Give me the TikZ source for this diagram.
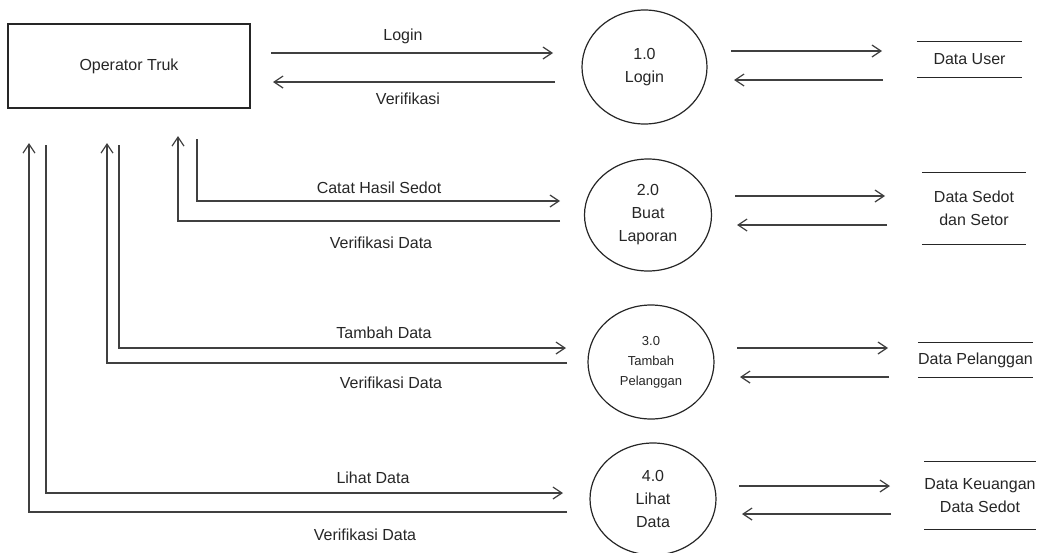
\documentclass[tikz,border=0pt]{standalone}
\usepackage{fontspec}
\setmainfont{Liberation Sans}
\usetikzlibrary{arrows.meta,shapes.geometric}

\begin{document}
\begin{tikzpicture}[x=1pt,y=-1pt,
  lbl/.style={text=black!85,font=\fontsize{16}{23}\selectfont,inner sep=0pt,align=center},
  entity/.style={draw=black!85,line width=1.2pt,minimum width=242,minimum height=84,inner sep=0pt,
    text=black!85,font=\fontsize{16}{23}\selectfont},
  proc/.style={ellipse,draw=black!85,line width=1.2pt,inner sep=0pt,align=center,
    text=black!85,font=\fontsize{16}{23}\selectfont},
  store/.style={inner sep=0pt,align=center,text=black!85,font=\fontsize{16}{23}\selectfont},
  storeline/.style={draw=black!85,line width=1.2pt},
  flow/.style={draw=black!75,line width=1.2pt,-{Straight Barb[length=9pt,width=12pt]}},
]
\useasboundingbox (0,0) rectangle (1041,552);
\clip (0,0) rectangle (1041,552);

% external entity
\node[entity] (op) at (129,66) {Operator Truk};

% processes
\node[proc,minimum width=125,minimum height=114] (p1) at (644.5,67) {1.0\\Login};
\node[proc,minimum width=127,minimum height=112] (p2) at (648,215) {2.0\\Buat\\Laporan};
\node[proc,minimum width=126,minimum height=114,font=\fontsize{13}{20}\selectfont] (p3) at (651,362) {3.0\\Tambah\\Pelanggan};
\node[proc,minimum width=126,minimum height=112] (p4) at (653,499) {4.0\\Lihat\\Data};

% data stores
\node[store,minimum width=105,minimum height=35] (d1) at (969.5,59.5) {Data User};
\node[store,minimum width=104,minimum height=71] (d2) at (974,208.5) {Data Sedot\\dan Setor};
\node[store,minimum width=105,minimum height=34] (d3) at (975.5,360) {Data Pelanggan};
\node[store,minimum width=104,minimum height=67] (d4) at (980,495.5) {Data Keuangan\\Data Sedot};
\foreach \d in {d1,d2,d3,d4}{
  \draw[storeline] (\d.north west) -- (\d.north east);
  \draw[storeline] (\d.south west) -- (\d.south east);
}

% flow end points
\coordinate (a1s) at (271,53);  \coordinate (a1e) at (553,53);
\coordinate (b1s) at (555,82);  \coordinate (b1e) at (273,82);
\coordinate (a2s) at (197,139); \coordinate (a2c) at (197,201); \coordinate (a2e) at (560,201);
\coordinate (b2s) at (560,221); \coordinate (b2c) at (178,221); \coordinate (b2e) at (178,136);
\coordinate (a3s) at (119,145); \coordinate (a3c) at (119,348); \coordinate (a3e) at (566,348);
\coordinate (b3s) at (567,363); \coordinate (b3c) at (107,363); \coordinate (b3e) at (107,143);
\coordinate (a4s) at (46,145);  \coordinate (a4c) at (46,493);  \coordinate (a4e) at (563,493);
\coordinate (b4s) at (567,512); \coordinate (b4c) at (29,512);  \coordinate (b4e) at (29,143);

% flows between entity and processes
\draw[flow] (a1s) -- (a1e);
\draw[flow] (b1s) -- (b1e);
\draw[flow] (a2s) -- (a2c) -- (a2e);
\draw[flow] (b2s) -- (b2c) -- (b2e);
\draw[flow] (a3s) -- (a3c) -- (a3e);
\draw[flow] (b3s) -- (b3c) -- (b3e);
\draw[flow] (a4s) -- (a4c) -- (a4e);
\draw[flow] (b4s) -- (b4c) -- (b4e);

% flow labels
\node[lbl] (l1a) at (403,36) {Login};
\node[lbl] (l1b) at (408,99) {Verifikasi};
\node[lbl] (l2a) at (379,188) {Catat Hasil Sedot};
\node[lbl] (l2b) at (381,243) {Verifikasi Data};
\node[lbl] (l3a) at (384,333) {Tambah Data};
\node[lbl] (l3b) at (391,383) {Verifikasi Data};
\node[lbl] (l4a) at (373,478) {Lihat Data};
\node[lbl] (l4b) at (365,535) {Verifikasi Data};

% flows between processes and data stores
\coordinate (c1s) at (731,51);  \coordinate (c1e) at (882,51);
\coordinate (e1s) at (883,80);  \coordinate (e1e) at (734,80);
\coordinate (c2s) at (735,196); \coordinate (c2e) at (885,196);
\coordinate (e2s) at (887,225); \coordinate (e2e) at (737,225);
\coordinate (c3s) at (737,348); \coordinate (c3e) at (888,348);
\coordinate (e3s) at (889,377); \coordinate (e3e) at (740,377);
\coordinate (c4s) at (739,486); \coordinate (c4e) at (890,486);
\coordinate (e4s) at (891,514); \coordinate (e4e) at (742,514);
\foreach \i in {1,2,3,4}{
  \draw[flow] (c\i s) -- (c\i e);
  \draw[flow] (e\i s) -- (e\i e);
}
\end{tikzpicture}
\end{document}
